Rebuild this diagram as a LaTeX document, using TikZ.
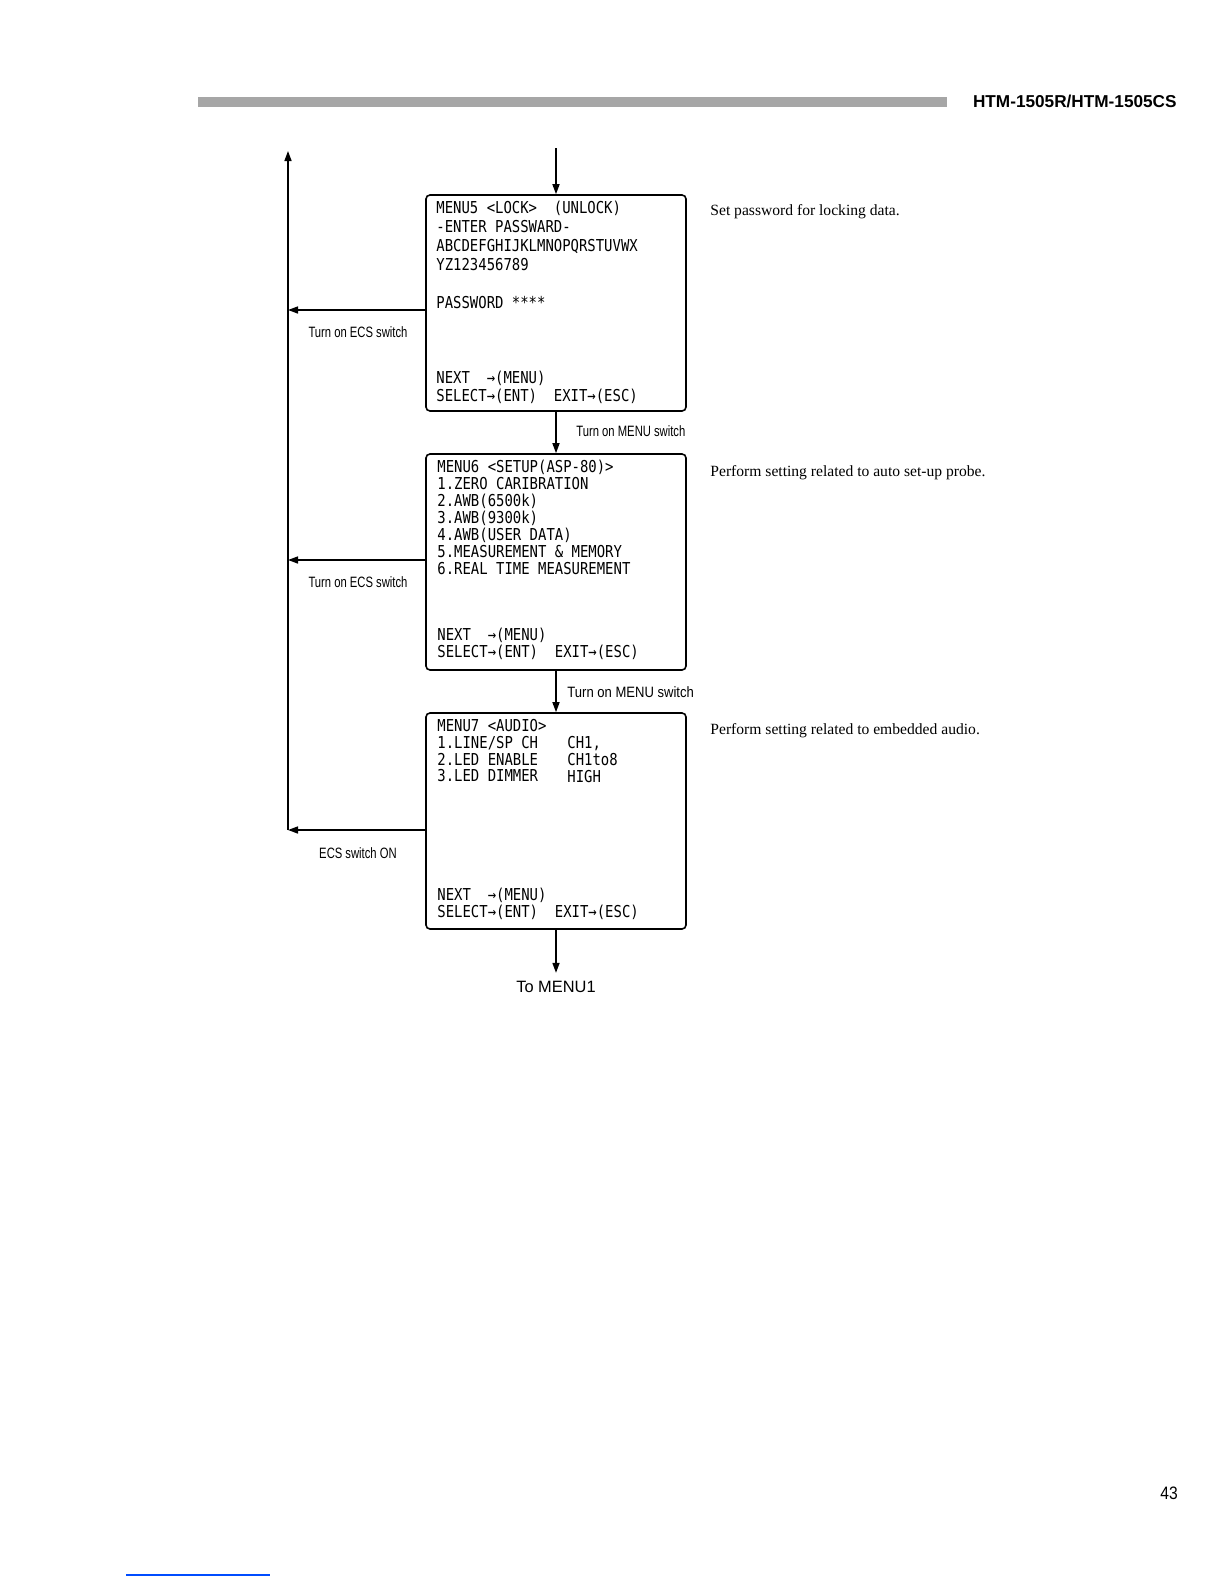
\documentclass[tikz,border=0pt]{standalone}
\usepackage{fontspec}
\setmainfont{Liberation Serif}
\newfontfamily\screenfont{DejaVu Sans Mono}[FakeStretch=0.85]
\newfontfamily\switchfont{Liberation Sans}[FakeStretch=0.75]
\newfontfamily\switchwide{Liberation Sans}[FakeStretch=0.87]
\newfontfamily\plainsans{Liberation Sans}
\usetikzlibrary{
    arrows.meta,
    positioning
}

\begin{document}
\begin{tikzpicture}[
    x=0.5pt,
    y=-0.5pt,
    screen/.style={
        rectangle,
        rounded corners=2pt,
        draw,
        line width=0.8pt,
        minimum width=130pt,
        minimum height=108pt,
        inner sep=0pt
    },
    screentext/.style={
        anchor=north west,
        align=left,
        inner sep=0pt,
        font=\screenfont\fontsize{8.2}{#1}\selectfont
    },
    screentext/.default=9.5,
    arrow/.style={
        -{Triangle[length=5pt,width=3.5pt]},
        line width=0.75pt
    },
    switchlabel/.style={
        inner sep=0pt,
        font=\switchfont\fontsize{7.5}{9}\selectfont
    },
    note/.style={
        anchor=west,
        inner sep=0pt,
        font=\fontsize{7.8}{9}\selectfont
    }
]

\useasboundingbox (0,0) rectangle (1224,1584);

% page header

\fill[gray!70] (198,97) rectangle (947,107);

\node[
    anchor=east,
    inner sep=0pt,
    font=\plainsans\bfseries\fontsize{8.6}{10}\selectfont
] (model) at (1177,101) {
    HTM-1505R/HTM-1505CS
};

% screens

\node[screen] (menu5) at (556,303) {};

\node[screen] (menu6) at (556,562) {};

\node[screen] (menu7) at (556,821) {};

% screen texts

\node[screentext=9.5] (menu5top) at (436,201) {
    MENU5 <LOCK>~~(UNLOCK)\\
    -ENTER PASSWARD-\\
    ABCDEFGHIJKLMNOPQRSTUVWX\\
    YZ123456789\\
    \\
    PASSWORD ****
};

\node[screentext=9] (menu5keys) at (436,371) {
    NEXT~~→(MENU)\\
    SELECT→(ENT)~~EXIT→(ESC)
};

\node[screentext=8.45] (menu6top) at (437,460) {
    MENU6 <SETUP(ASP-80)>\\
    1.ZERO CARIBRATION\\
    2.AWB(6500k)\\
    3.AWB(9300k)\\
    4.AWB(USER DATA)\\
    5.MEASUREMENT \& MEMORY\\
    6.REAL TIME MEASUREMENT
};

\node[screentext=8.1] (menu6keys) at (437,628) {
    NEXT~~→(MENU)\\
    SELECT→(ENT)~~EXIT→(ESC)
};

\node[screentext=8.4] (menu7top) at (437,719) {
    MENU7 <AUDIO>\\
    1.LINE/SP CH\\
    2.LED ENABLE\\
    3.LED DIMMER
};

\node[screentext=8.4] (menu7values) at (567,736) {
    CH1,\\
    CH1to8\\
    HIGH
};

\node[screentext=8.1] (menu7keys) at (437,888) {
    NEXT~~→(MENU)\\
    SELECT→(ENT)~~EXIT→(ESC)
};

% notes

\node[note] (note5) at (710,212) {
    Set password for locking data.
};

\node[note] (note6) at (710,473) {
    Perform setting related to auto set-up probe.
};

\node[note] (note7) at (710,731) {
    Perform setting related to embedded audio.
};

% entry and menu switch

\coordinate (entry) at (556,148);

\draw[arrow] (entry) -- (menu5.north);

\draw[arrow] (menu5.south) -- (menu6.north);

\node[switchlabel, anchor=west] (menu56) at (576,431) {
    Turn on MENU switch
};

\draw[arrow] (menu6.south) -- (menu7.north);

\node[
    switchlabel,
    anchor=west,
    font=\switchwide\fontsize{7.5}{9}\selectfont
] (menu67) at (567,692) {
    Turn on MENU switch
};

% ecs switch return

\coordinate (ecstop) at (288,151);
\coordinate (ecs5) at (288,310);
\coordinate (ecs6) at (288,560);
\coordinate (ecs7) at (288,830);

\draw[arrow] (ecs7) -- (ecstop);

\draw[arrow] (menu5.west |- ecs5) -- (ecs5);

\node[switchlabel] (ecslabel5) at (358,332) {
    Turn on ECS switch
};

\draw[arrow] (menu6.west |- ecs6) -- (ecs6);

\node[switchlabel] (ecslabel6) at (358,582) {
    Turn on ECS switch
};

\draw[arrow] (menu7.west |- ecs7) -- (ecs7);

\node[switchlabel] (ecslabel7) at (358,853) {
    ECS switch ON
};

% back to menu1

\node[
    inner sep=4pt,
    font=\plainsans\fontsize{8.2}{10}\selectfont
] (tomenu1) at (556,987) {
    To MENU1
};

\draw[arrow] (menu7.south) -- (tomenu1.north);

% page number

\node[
    inner sep=0pt,
    font=\switchwide\fontsize{9}{10}\selectfont
] (pagenum) at (1169,1493) {
    43
};

\draw[blue!70!cyan, line width=0.6pt] (126,1575) -- (270,1575);

\end{tikzpicture}
\end{document}
